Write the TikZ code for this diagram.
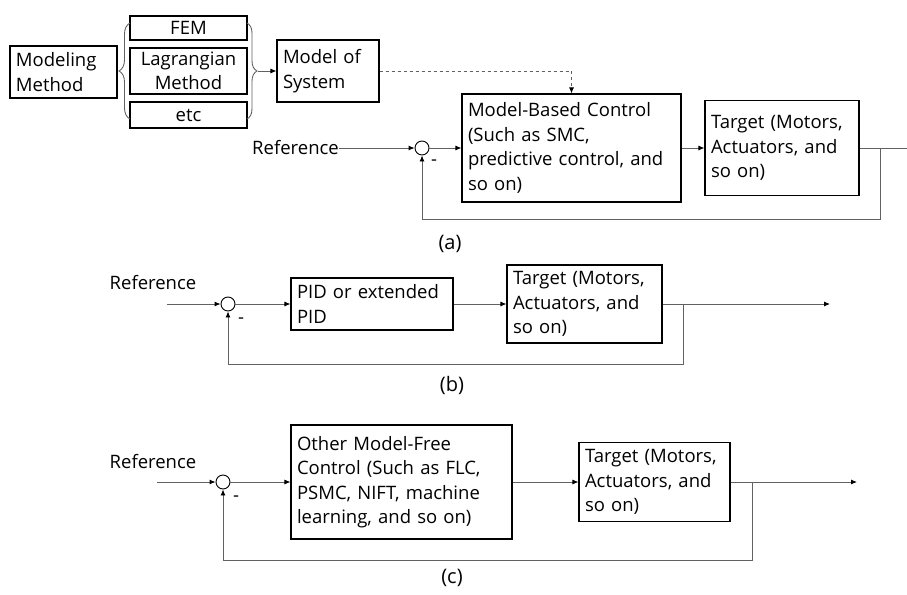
\documentclass[tikz,border=0pt]{standalone}
\usepackage{fontspec}
\setmainfont{Open Sans}
\usetikzlibrary{arrows.meta,decorations.pathreplacing}

\tikzset{
  box/.style={draw, line width=1.1pt, inner xsep=6pt, inner ysep=2pt, align=left,
    font=\fontsize{18.5}{24.5}\selectfont},
  cbox/.style={box, align=center},
  sumpt/.style={draw, circle, line width=0.9pt, minimum size=14pt, inner sep=0pt},
  sig/.style={draw=black!62, line width=0.9pt},
  arr/.style={sig, -{Latex[length=6pt,width=5pt,black]}},
  lbl/.style={font=\fontsize{18.5}{22}\selectfont, inner sep=0pt},
  subcap/.style={font=\fontsize{20}{24}\selectfont, inner sep=0pt},
  brc/.style={sig, decorate},
}

\begin{document}
\begin{tikzpicture}[x=1pt,y=-1pt]
\useasboundingbox (0,0) rectangle (907,594);

\node[box, text width=95, minimum height=52] (mm) at (63.5,72) {Modeling\\Method};
\node[cbox, text width=105, minimum height=24] (fem) at (188.5,28) {FEM};
\node[cbox, text width=105, minimum height=46] (lag) at (188.5,71) {Lagrangian\\Method};
\node[cbox, text width=105, minimum height=26] (etc) at (188.5,115) {etc};
\draw[brc, decoration={brace,amplitude=11pt}] (130,119) -- (130,23);
\draw[brc, decoration={brace,amplitude=10pt}] (247,23) -- (247,119);
\coordinate (brR) at (258,71);
\node[box, text width=90, minimum height=62] (mos) at (328,71) {Model of\\System};
\draw[arr] (brR) -- (mos);

\node[box, text width=207, minimum height=108] (mbc) at (571.5,148) {Model-Based Control\\(Such as SMC,\\predictive control, and\\so on)};
\node[box, text width=142, minimum height=95] (tga) at (782,148) {Target (Motors,\\Actuators, and\\so on)};
\node[sumpt] (sa) at (422,148) {};
\node[lbl, anchor=east] (refa) at (339,148) {Reference};
\node[lbl] (ma) at (434,163) {-};
\coordinate (tpa) at (880,148);
\coordinate (outa) at (907,148);
\coordinate (fba) at (880,219);
\draw[arr, dashed] (mos.east) -| (mbc.north);
\draw[arr] (refa) -- (sa);
\draw[arr] (sa) -- (mbc);
\draw[arr] (mbc) -- (tga);
\draw[sig] (tga.east) -- (outa);
\draw[arr] (tpa) -- (fba) -| (sa.south);
\node[subcap] (capa) at (450,244) {(a)};

\node[lbl] (refb) at (153,283) {Reference};
\coordinate (inb) at (167,304);
\node[sumpt] (sb) at (228,304) {};
\node[lbl] (mb) at (241,321) {-};
\node[box, text width=150, minimum height=52] (pid) at (372,304) {PID or extended\\PID};
\node[box, text width=143, minimum height=78] (tgb) at (584.5,304) {Target (Motors,\\Actuators, and\\so on)};
\coordinate (tpb) at (683,304);
\coordinate (outb) at (830,304);
\coordinate (fbb) at (683,364);
\draw[arr] (inb) -- (sb);
\draw[arr] (sb) -- (pid);
\draw[arr] (pid) -- (tgb);
\draw[arr] (tgb.east) -- (outb);
\draw[arr] (tpb) -- (fbb) -| (sb.south);
\node[subcap] (capb) at (452,385) {(b)};

\node[lbl] (refc) at (153,462) {Reference};
\coordinate (inc) at (157,482);
\node[sumpt] (sc) at (223,482) {};
\node[lbl] (mc) at (236,499) {-};
\node[box, text width=209, minimum height=114] (mfc) at (401.5,482) {Other Model-Free\\Control (Such as FLC,\\PSMC, NIFT, machine\\learning, and so on)};
\node[box, text width=139, minimum height=79] (tgc) at (654.5,482) {Target (Motors,\\Actuators, and\\so on)};
\coordinate (tpc) at (752,482);
\coordinate (outc) at (857,482);
\coordinate (fbc) at (752,560);
\draw[arr] (inc) -- (sc);
\draw[arr] (sc) -- (mfc);
\draw[arr] (mfc) -- (tgc);
\draw[arr] (tgc.east) -- (outc);
\draw[arr] (tpc) -- (fbc) -| (sc.south);
\node[subcap] (capc) at (452,578) {(c)};

\end{tikzpicture}
\end{document}
